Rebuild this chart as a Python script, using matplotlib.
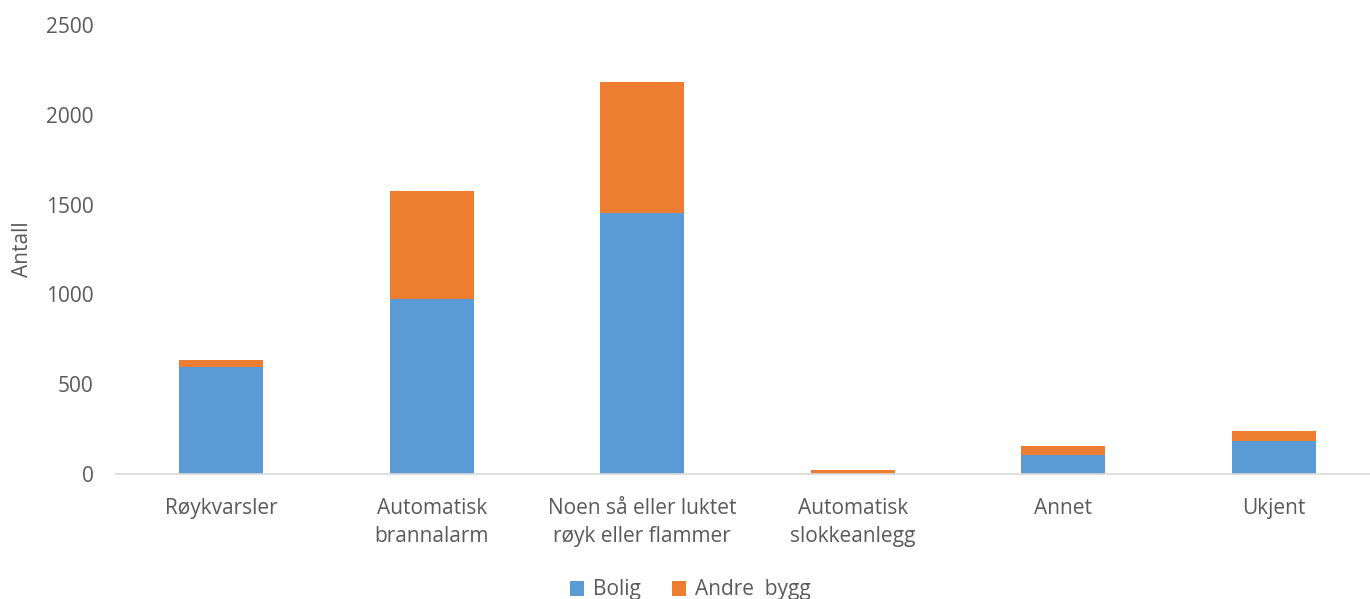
import matplotlib.pyplot as plt
import numpy as np

categories = ["Røykvarsler", "Automatisk\nbrannalarm", "Noen så eller luktet\nrøyk eller flammer",
              "Automatisk\nslokkeanlegg", "Annet", "Ukjent"]
bolig = [595, 976, 1456, 2, 106, 184]
andre_bygg = [42, 600, 728, 22, 52, 58]

plt.rcParams['font.family'] = ['Open Sans', 'DejaVu Sans']
grey = '#595959'

fig = plt.figure(figsize=(13.7, 5.99), dpi=100)
ax = fig.add_axes([116 / 1370, 125 / 599, 1263 / 1370, 449 / 599])

x = np.arange(len(categories))
ax.bar(x, bolig, width=0.4, color='#5b9bd5', label='Bolig')
ax.bar(x, andre_bygg, width=0.4, bottom=bolig, color='#ed7d31', label='Andre  bygg')

ax.set_xlim(-0.5, len(categories) - 0.5)
ax.set_ylim(0, 2500)
ax.set_yticks(range(0, 2501, 500))
ax.set_xticks(x)
ax.set_xticklabels(categories, fontsize=15, color=grey, linespacing=1.45)
ax.tick_params(axis='y', labelsize=15, labelcolor=grey, length=0, pad=16)
ax.tick_params(axis='x', length=0, pad=17)

for s in ['top', 'right', 'left']:
    ax.spines[s].set_visible(False)
ax.spines['bottom'].set_color('#d9d9d9')
ax.spines['bottom'].set_linewidth(1.2)

ax.set_ylabel('Antall', fontsize=15, color=grey)
ax.yaxis.set_label_coords((33 - 116) / 1263, 0.5)

fig.legend(loc='center', bbox_to_anchor=(690 / 1370, 1 - 590 / 599), ncol=2, frameon=False,
           fontsize=15, labelcolor=grey, handlelength=0.7, handleheight=0.7,
           handletextpad=0.4, columnspacing=1.5)

fig.savefig('out.png', dpi=100)
